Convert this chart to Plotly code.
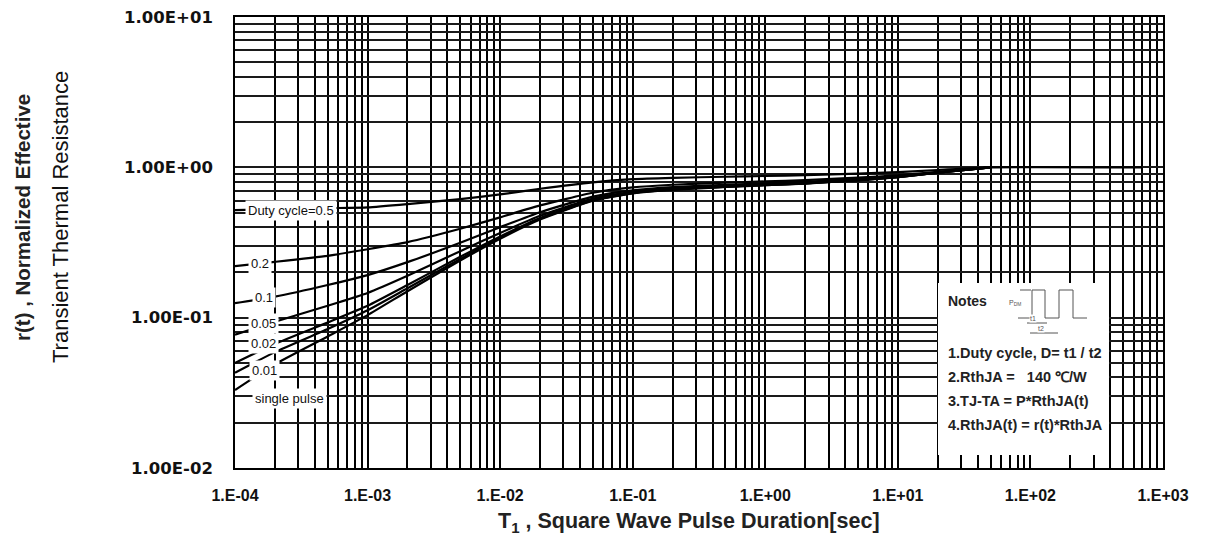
import plotly.graph_objects as go

# ---------------- data ----------------
pulse_s = [1e-4, 2e-4, 5e-4, 1e-3, 2e-3, 5e-3, 1e-2, 2e-2, 5e-2,
           1e-1, 2e-1, 5e-1, 1, 2, 5, 10, 20, 50]
pulse_s_long = [1e-4, 2e-4, 5e-4, 1e-3, 2e-3, 5e-3, 1e-2, 2e-2, 5e-2,
                1e-1, 2e-1, 5e-1, 1, 2, 5, 10, 20, 50, 700]

r_d050 = [0.52, 0.525, 0.535, 0.542, 0.570, 0.615, 0.660, 0.720, 0.795,
          0.835, 0.852, 0.866, 0.876, 0.888, 0.908, 0.930, 0.960, 1.000, 1.000]
r_d020 = [0.220, 0.235, 0.258, 0.285, 0.318, 0.390, 0.465, 0.558, 0.678,
          0.735, 0.766, 0.790, 0.806, 0.822, 0.854, 0.886, 0.934, 1.000]
r_d010 = [0.125, 0.138, 0.165, 0.192, 0.234, 0.315, 0.400, 0.503, 0.638,
          0.702, 0.738, 0.765, 0.783, 0.801, 0.837, 0.873, 0.927, 1.000]
r_d005 = [0.077, 0.094, 0.120, 0.146, 0.190, 0.277, 0.366, 0.476, 0.619,
          0.686, 0.724, 0.752, 0.771, 0.790, 0.828, 0.866, 0.923, 1.000]
r_d002 = [0.050, 0.067, 0.093, 0.120, 0.165, 0.254, 0.347, 0.460, 0.607,
          0.676, 0.715, 0.744, 0.764, 0.783, 0.823, 0.862, 0.921, 1.000]
r_d001 = [0.043, 0.059, 0.084, 0.112, 0.157, 0.246, 0.340, 0.455, 0.603,
          0.673, 0.712, 0.742, 0.762, 0.781, 0.821, 0.861, 0.920, 1.000]
r_single = [0.033, 0.049, 0.075, 0.104, 0.150, 0.240, 0.335, 0.450, 0.600,
            0.670, 0.710, 0.740, 0.760, 0.780, 0.820, 0.860, 0.920, 1.000]

curve_labels = ["Duty cycle=0.5", "0.2", "0.1", "0.05", "0.02", "0.01", "single pulse"]

x_tick_labels = ["1.E-04", "1.E-03", "1.E-02", "1.E-01", "1.E+00", "1.E+01", "1.E+02", "1.E+03"]
y_tick_labels = ["1.00E-02", "1.00E-01", "1.00E+00", "1.00E+01"]

notes_title = "Notes"
notes_lines = ["1.Duty cycle, D= t1 / t2",
               "2.RthJA =   140 \u2103/W",
               "3.TJ-TA = P*RthJA(t)",
               "4.RthJA(t) = r(t)*RthJA"]

# ---------------- layout helpers ----------------
W, H = 1208, 537
L, R, T, B = 235, 1163, 17, 468


def px(xp):
    return (xp - L) / (R - L)


def py(yp):
    return 1 - (yp - T) / (B - T)


FONT = "Arial, 'Liberation Sans', sans-serif"

fig = go.Figure()

series = [(pulse_s_long, r_d050), (pulse_s, r_d020), (pulse_s, r_d010),
          (pulse_s, r_d005), (pulse_s, r_d002), (pulse_s, r_d001),
          (pulse_s, r_single)]
for (xs, ys), name in zip(series, curve_labels):
    fig.add_trace(go.Scatter(x=xs, y=ys, mode="lines", name=name,
                             line=dict(color="black", width=2.2, shape="spline", smoothing=0.5),
                             showlegend=False, hoverinfo="skip"))

# tick values with gridlines at every 1..9 multiple
xtv, xtt = [], []
for i, n in enumerate(range(-4, 3)):
    for k in range(1, 10):
        xtv.append(k * 10.0 ** n)
        xtt.append(x_tick_labels[i] if k == 1 else "")
xtv.append(1e3)
xtt.append(x_tick_labels[-1])

ytv, ytt = [], []
for i, n in enumerate(range(-2, 1)):
    for k in range(1, 10):
        ytv.append(k * 10.0 ** n)
        ytt.append(y_tick_labels[i] if k == 1 else "")
ytv.append(10.0)
ytt.append(y_tick_labels[-1])

fig.update_xaxes(type="log", range=[-4, 3], tickmode="array", tickvals=xtv, ticktext=xtt,
                 showgrid=True, gridcolor="#000", gridwidth=1.7,
                 showline=True, mirror=True, linecolor="black", linewidth=1.6,
                 ticks="", ticklabelstandoff=12, tickangle=0, automargin=False,
                 tickfont=dict(family=FONT, size=16, color="#111", weight="bold"),
                 zeroline=False)
fig.update_yaxes(type="log", range=[-2, 1], tickmode="array", tickvals=ytv, ticktext=ytt,
                 showgrid=True, gridcolor="#1a1a1a", gridwidth=1.5,
                 showline=True, mirror=True, linecolor="black", linewidth=1.6,
                 ticks="", ticklabelstandoff=17, automargin=False,
                 tickfont=dict(family="'DejaVu Sans', sans-serif", size=16.5, color="#111", weight="bold"),
                 zeroline=False)

ann = []
# curve labels (white background)
label_pos = [(245, 210), (248, 263), (252, 297), (248, 323), (248, 343), (249, 370), (252, 398)]
for text, (lx, ly) in zip(curve_labels, label_pos):
    ann.append(dict(x=px(lx), y=py(ly), xref="paper", yref="paper", text=text,
                    showarrow=False, xanchor="left", yanchor="middle",
                    bgcolor="white", borderpad=2,
                    font=dict(family=FONT, size=13, color="#111")))

# Notes box
shapes = [dict(type="rect", xref="paper", yref="paper", x0=px(938), x1=px(1109),
               y0=py(455), y1=py(283), fillcolor="white", line=dict(width=0), layer="above")]
gcol = "#555"
pulse_path = (f"M {px(1018)} {py(318)} L {px(1032)} {py(318)} L {px(1032)} {py(290)} "
              f"L {px(1045)} {py(290)} L {px(1045)} {py(318)} L {px(1059)} {py(318)} "
              f"L {px(1059)} {py(290)} L {px(1073)} {py(290)} L {px(1073)} {py(318)} "
              f"L {px(1087)} {py(318)}")
shapes.append(dict(type="path", xref="paper", yref="paper", path=pulse_path,
                   line=dict(color=gcol, width=1), layer="above"))
shapes.append(dict(type="line", xref="paper", yref="paper", x0=px(1020), x1=px(1031),
                   y0=py(290), y1=py(290), line=dict(color=gcol, width=1), layer="above"))
shapes.append(dict(type="line", xref="paper", yref="paper", x0=px(1027), x1=px(1047),
                   y0=py(323), y1=py(323), line=dict(color=gcol, width=1), layer="above"))
shapes.append(dict(type="line", xref="paper", yref="paper", x0=px(1030), x1=px(1058),
                   y0=py(333), y1=py(333), line=dict(color=gcol, width=1), layer="above"))

ann.append(dict(x=px(1023), y=py(303), xref="paper", yref="paper", text="P<sub>DM</sub>",
                showarrow=False, font=dict(family=FONT, size=7, color=gcol)))
ann.append(dict(x=px(1037), y=py(323), xref="paper", yref="paper", text="t1", bgcolor="white",
                showarrow=False, borderpad=0, font=dict(family=FONT, size=7, color=gcol)))
ann.append(dict(x=px(1045), y=py(333), xref="paper", yref="paper", text="t2", bgcolor="white",
                showarrow=False, borderpad=0, font=dict(family=FONT, size=7, color=gcol)))

ann.append(dict(x=px(946), y=py(301), xref="paper", yref="paper", text=notes_title,
                showarrow=False, xanchor="left", yanchor="middle",
                font=dict(family=FONT, size=14, color="#222", weight="bold")))
for i, line in enumerate(notes_lines):
    ann.append(dict(x=px(946), y=py(353 + 24 * i), xref="paper", yref="paper", text=line,
                    showarrow=False, xanchor="left", yanchor="middle",
                    font=dict(family=FONT, size=14.5, color="#222", weight="bold")))

# axis titles
ann.append(dict(x=px(689), y=py(522), xref="paper", yref="paper",
                text="T<sub>1</sub> , Square Wave Pulse Duration[sec]",
                showarrow=False, xanchor="center", yanchor="middle",
                font=dict(family=FONT, size=21.5, color="#222", weight="bold")))
ann.append(dict(x=px(22), y=py(218), xref="paper", yref="paper",
                text="r(t) , Normalized Effective", textangle=-90,
                showarrow=False, xanchor="center", yanchor="middle",
                font=dict(family=FONT, size=20.5, color="#222", weight="bold")))
ann.append(dict(x=px(60), y=py(217), xref="paper", yref="paper",
                text="Transient Thermal Resistance", textangle=-90,
                showarrow=False, xanchor="center", yanchor="middle",
                font=dict(family=FONT, size=22, color="#111")))

fig.update_layout(width=W, height=H, margin=dict(l=L, r=W - R, t=T, b=H - B, autoexpand=False),
                  paper_bgcolor="white", plot_bgcolor="white",
                  annotations=ann, shapes=shapes, showlegend=False)

fig.write_html("out.html")
